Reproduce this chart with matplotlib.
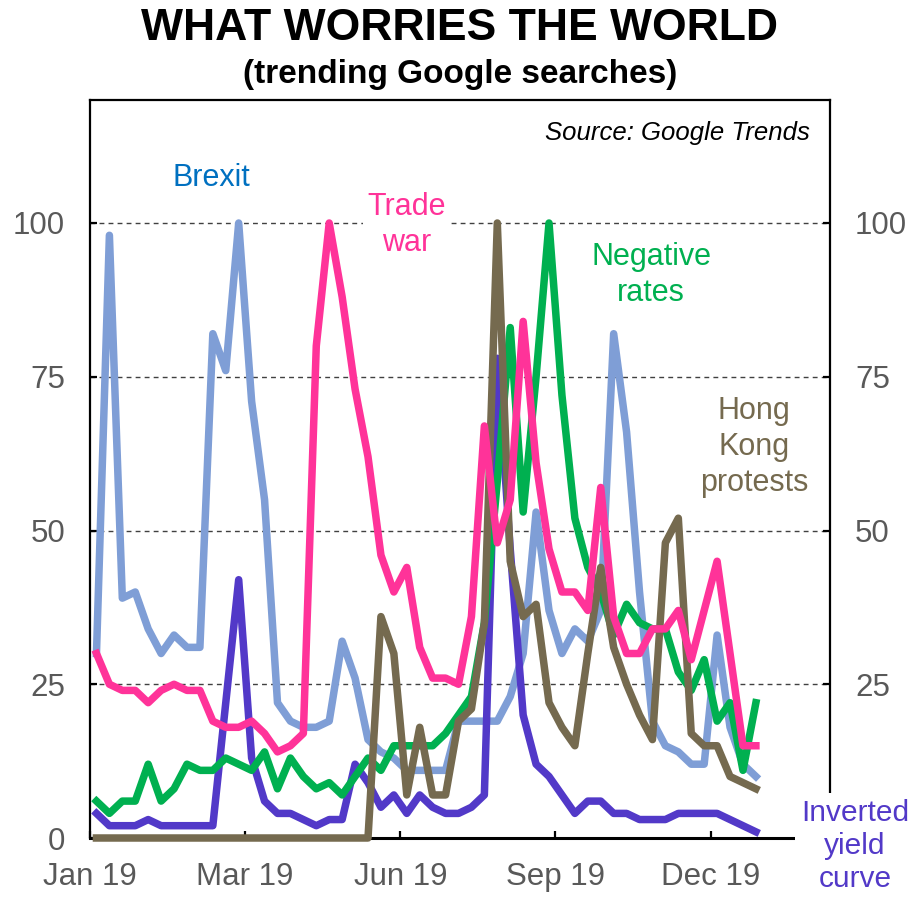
import matplotlib
matplotlib.use("Agg")
import matplotlib.pyplot as plt
import numpy as np

plt.rcParams['font.family'] = ['Liberation Sans', 'DejaVu Sans']

# weekly Google Trends index, Jan 2019 - Dec 2019 (52 weeks)
brexit = [30, 98, 39, 40, 34, 30, 33, 31, 31, 82,
          76, 100, 71, 55, 22, 19, 18, 18, 19, 32,
          26, 16, 14, 13, 11, 11, 11, 11, 19, 19,
          19, 19, 23, 30, 53, 37, 30, 34, 32, 37,
          82, 66, 40, 19, 15, 14, 12, 12, 33, 18,
          12, 10]
trade_war = [30, 25, 24, 24, 22, 24, 25, 24, 24, 19,
             18, 18, 19, 17, 14, 15, 17, 80, 100, 88,
             73, 62, 46, 40, 44, 31, 26, 26, 25, 36,
             67, 48, 55, 84, 61, 47, 40, 40, 37, 57,
             36, 30, 30, 34, 34, 37, 29, 37, 45, 30,
             15, 15]
negative_rates = [6, 4, 6, 6, 12, 6, 8, 12, 11, 11,
                  13, 12, 11, 14, 8, 13, 10, 8, 9, 7,
                  10, 13, 11, 15, 15, 15, 15, 17, 20, 23,
                  35, 58, 83, 53, 75, 100, 72, 52, 44, 40,
                  33, 38, 35, 34, 34, 27, 24, 29, 19, 22,
                  11, 22]
hong_kong = [0, 0, 0, 0, 0, 0, 0, 0, 0, 0,
             0, 0, 0, 0, 0, 0, 0, 0, 0, 0,
             0, 0, 36, 30, 7, 18, 7, 7, 19, 21,
             35, 100, 45, 36, 38, 22, 18, 15, 30, 44,
             31, 25, 20, 16, 48, 52, 17, 15, 15, 10,
             9, 8]
inverted_yield = [4, 2, 2, 2, 3, 2, 2, 2, 2, 2,
                  22, 42, 13, 6, 4, 4, 3, 2, 3, 3,
                  12, 9, 5, 7, 4, 7, 5, 4, 4, 5,
                  7, 78, 47, 20, 12, 10, 7, 4, 6, 6,
                  4, 4, 3, 3, 3, 4, 4, 4, 4, 3,
                  2, 1]

tick_labels = ["Jan 19", "Mar 19", "Jun 19", "Sep 19", "Dec 19"]
y_ticks = [0, 25, 50, 75, 100]

W, H = 914, 898
fig = plt.figure(figsize=(W / 100, H / 100), dpi=100)
ax = fig.add_axes([90 / W, 1 - 838 / H, 740 / W, 738 / H])

def px(x, y):
    return x / W, 1 - y / H

weeks = np.arange(len(brexit))
lw = 5.4
ax.plot(weeks, brexit, color="#7F9ED6", lw=lw, zorder=3, clip_on=False)
ax.plot(weeks, inverted_yield, color="#5239C8", lw=lw, zorder=3.1, clip_on=False)
ax.plot(weeks, negative_rates, color="#00B050", lw=lw, zorder=3.2, clip_on=False)
ax.plot(weeks, hong_kong, color="#756A4F", lw=lw, zorder=3.3, clip_on=False)
ax.plot(weeks, trade_war, color="#FF3399", lw=lw, zorder=3.4, clip_on=False)

for v in y_ticks[1:]:
    ax.axhline(v, color="#404040", lw=1, ls=(0, (3.5, 3)), zorder=1)

ax.set_ylim(0, 120)
ax.set_xlim(-0.5, -0.5 + 740 / 12.93)
ax.set_yticks(y_ticks)
ax.set_xticks([-0.5 + 12 * k for k in range(len(tick_labels))])
ax.set_xticklabels(tick_labels)

for s in ax.spines.values():
    s.set_linewidth(1.6)
    s.set_color("black")
ax.spines["bottom"].set_linewidth(2.2)

ax.tick_params(axis="y", direction="in", length=5, width=1.6, left=True, right=True,
               labelleft=True, labelright=True, labelsize=22.5, labelcolor="#595959", pad=18)
ax.tick_params(axis="x", direction="in", length=5, width=1.6,
               labelsize=22.5, labelcolor="#595959", pad=17)
# the right-hand 0 sits under the "Inverted yield curve" label
ax.yaxis.get_major_ticks()[0].label2.set_visible(False)

# titles
fig.text(*px(460, 28), "WHAT WORRIES THE WORLD", ha="center", va="center",
         fontsize=32, fontweight="bold")
fig.text(*px(460, 74), "(trending Google searches)", ha="center", va="center",
         fontsize=24, fontweight="bold")
fig.text(*px(810, 133), "Source: Google Trends", ha="right", va="center",
         fontsize=18.5, style="italic")

# series labels
lab = dict(ha="center", va="center", fontsize=22, linespacing=1.27)
fig.text(*px(211, 178), "Brexit", color="#0070C0", **lab)
fig.text(*px(407, 225), "Trade\nwar", color="#FF3399",
         bbox=dict(facecolor="white", edgecolor="none", pad=3), **lab)
fig.text(*px(651, 275), "Negative\nrates", color="#00B050", **lab)
fig.text(*px(754, 447), "Hong\nKong\nprotests", color="#756A4F", **lab)
fig.text(*px(855, 846), "Inverted\nyield\ncurve", color="#5239C8", zorder=10,
         ha="center", va="center", fontsize=21.5, linespacing=1.22,
         bbox=dict(facecolor="white", edgecolor="none", boxstyle="square,pad=0.2"))

fig.savefig("out.png", dpi=100)
